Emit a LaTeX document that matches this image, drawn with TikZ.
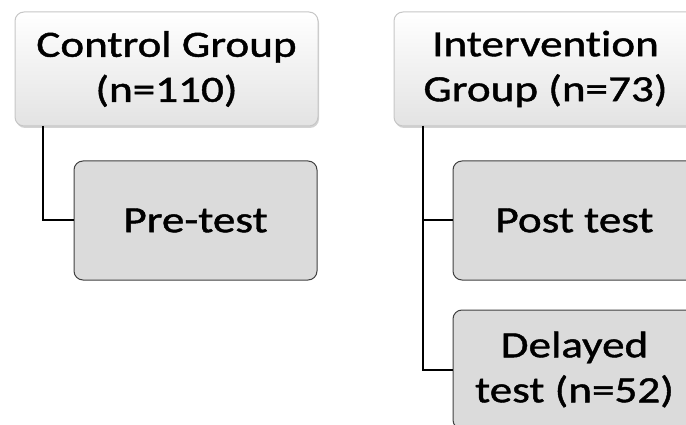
\documentclass[tikz,border=0pt]{standalone}
\usepackage{fontspec}
\setmainfont[FakeStretch=1.22,FakeBold=1.2,RawFeature=-liga]{Carlito}
\usetikzlibrary{shadows}
\begin{document}
\begin{tikzpicture}[x=1pt,y=-1pt,
  topbox/.style={draw=gray!45, line width=1pt, rounded corners=9pt, top color=white, bottom color=gray!22,
     drop shadow={shadow xshift=1pt, shadow yshift=-2pt, opacity=0.35},
     minimum width=303pt, minimum height=114pt, align=center, font=\fontsize{37}{45}\selectfont, inner sep=0pt},
  subbox/.style={draw=black!75, line width=1pt, rounded corners=9pt, fill=gray!28,
     minimum width=243pt, minimum height=119pt, align=center, font=\fontsize{37}{45}\selectfont, inner sep=0pt},
  link/.style={draw=black, line width=2pt}]
\useasboundingbox (0,0) rectangle (686,425);
\clip (0,0) rectangle (686,425);
\node[topbox] (cg) at (166.5,69) {Control Group\\(n=110)};
\node[subbox] (pre) at (195.5,220.5) {Pre-test};
\node[topbox] (ig) at (545.5,69) {Intervention\\Group (n=73)};
\node[subbox] (post) at (574.5,220.5) {Post test};
\node[subbox] (del) at (574.5,369.5) {Delayed\\test (n=52)};
\coordinate (c1) at (43,126);
\coordinate (c2) at (423,126);
\draw[link] (c1) |- (pre.west);
\draw[link] (c2) |- (post.west);
\draw[link] (c2) |- (del.west);
\end{tikzpicture}
\end{document}
